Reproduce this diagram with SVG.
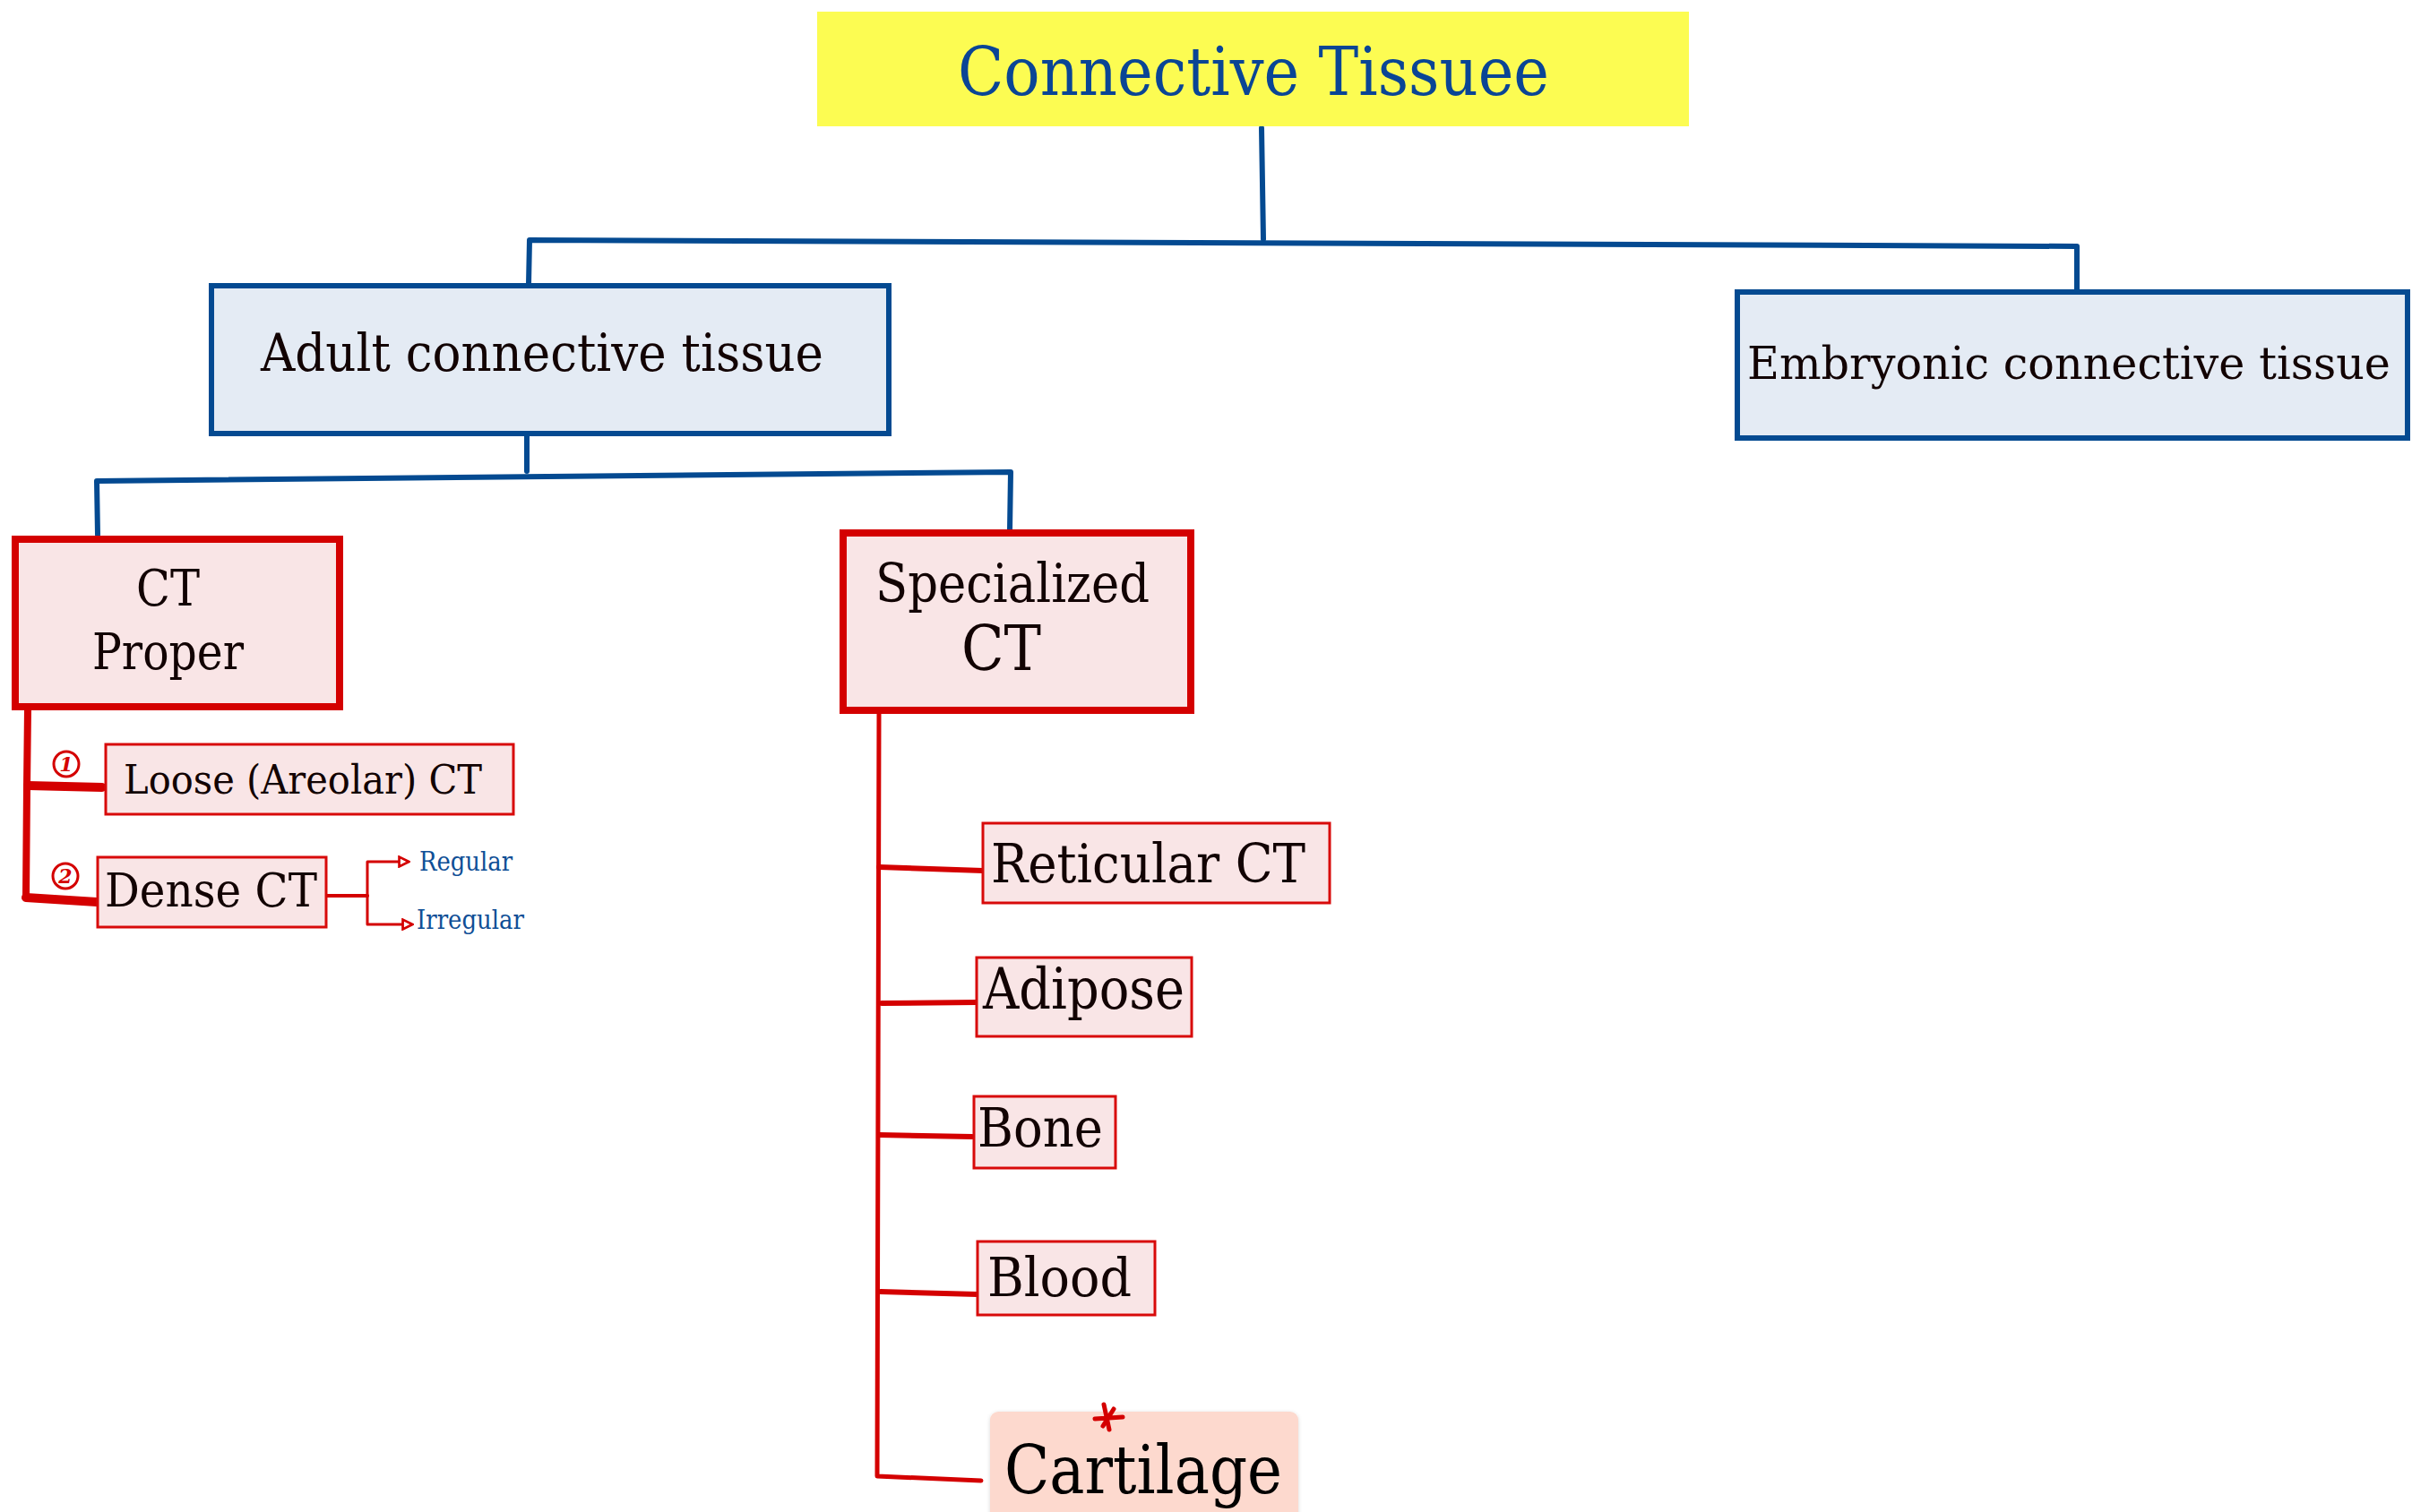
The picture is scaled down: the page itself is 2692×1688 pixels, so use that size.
<svg xmlns="http://www.w3.org/2000/svg" width="2692" height="1688" viewBox="0 0 2692 1688">
<style>
.t{font-family:"DejaVu Serif","Liberation Serif",serif;fill:#120303}
.bl{fill:#e4ebf4;stroke:#044a91;stroke-width:6}
.rb{fill:#f9e5e6;stroke:#d40000;stroke-width:8}
.rs{fill:#f9e5e6;stroke:#d80a0a;stroke-width:3}
.cb{stroke:#044a91;stroke-width:6;fill:none;stroke-linecap:round;stroke-linejoin:round}
.cr{stroke:#d40000;fill:none;stroke-linecap:round;stroke-linejoin:round}
.sub{font-family:"DejaVu Serif","Liberation Serif",serif;fill:#0f4f96}
</style>
<defs>
<marker id="ah" viewBox="0 0 10 10" refX="8" refY="5" markerWidth="4.5" markerHeight="4.5" orient="auto" markerUnits="strokeWidth">
<path d="M1,1 L9,5 L1,9 Z" fill="#fff" stroke="#d40000" stroke-width="2"/>
</marker>
<filter id="sh" x="-5%" y="-5%" width="110%" height="110%"><feDropShadow dx="0" dy="1" stdDeviation="2" flood-color="#000" flood-opacity="0.15"/></filter>
</defs>
<rect width="2692" height="1688" fill="#fff"/>
<g id="connectors">
<path class="cb" d="M1408,143 L1410,267"/>
<path class="cb" d="M590,317 L591,268 L2318,275 L2318,326"/>
<path class="cb" stroke-width="5" d="M588,484 L588,526"/>
<path class="cb" stroke-width="5" d="M109,597 L108,537 L1128,527 L1127,592"/>
<path class="cr" stroke-width="8" d="M31,792 L30,878 L29,1002"/>
<path class="cr" stroke-width="10" d="M31,877 L114,879"/>
<path class="cr" stroke-width="10" d="M29,1002 L108,1007"/>
<path class="cr" stroke-width="4" d="M364,1000 L410,1000"/>
<path class="cr" stroke-width="3" d="M410,1000 L410,962 L455,962" marker-end="url(#ah)"/>
<path class="cr" stroke-width="3" d="M410,1000 L410,1032 L459,1032" marker-end="url(#ah)"/>
<path class="cr" stroke-width="5" d="M981,797 L979,1648 L1095,1653"/>
<path class="cr" stroke-width="6" d="M981,968 L1097,972"/>
<path class="cr" stroke-width="6" d="M984,1120 L1090,1119"/>
<path class="cr" stroke-width="6" d="M981,1267 L1085,1269"/>
<path class="cr" stroke-width="6" d="M983,1442 L1091,1445"/>
</g>
<g id="title">
<rect x="912" y="13" width="973" height="128" fill="#fcfc52"/>
<text class="t" x="1069" y="106" font-size="74" textLength="660" lengthAdjust="spacingAndGlyphs" style="fill:#0a4595">Connective Tissuee</text>
</g>
<g id="adult">
<rect class="bl" x="236" y="319" width="756" height="165"/>
<text class="t" x="291" y="414" font-size="57" textLength="628" lengthAdjust="spacingAndGlyphs">Adult connective tissue</text>
</g>
<g id="embryonic">
<rect class="bl" x="1939" y="326" width="748" height="163"/>
<text class="t" x="1950" y="423" font-size="50" textLength="718" lengthAdjust="spacingAndGlyphs">Embryonic connective tissue</text>
</g>
<g id="ct-proper">
<rect class="rb" x="17" y="602" width="362" height="187"/>
<text class="t" x="152" y="676" font-size="56" textLength="71" lengthAdjust="spacingAndGlyphs">CT</text>
<text class="t" x="103" y="747" font-size="56" textLength="169" lengthAdjust="spacingAndGlyphs">Proper</text>
</g>
<g id="loose">
<rect class="rs" x="118" y="831" width="455" height="78"/>
<text class="t" x="138" y="886" font-size="45" textLength="400" lengthAdjust="spacingAndGlyphs">Loose (Areolar) CT</text>
<circle cx="74" cy="853" r="14" fill="none" stroke="#d40000" stroke-width="3"/>
<text x="74" y="861" font-size="22" font-style="italic" font-weight="bold" text-anchor="middle" font-family="DejaVu Serif,serif" fill="#d40000">1</text>
</g>
<g id="dense">
<rect class="rs" x="109" y="957" width="255" height="78"/>
<text class="t" x="117" y="1012" font-size="53" textLength="237" lengthAdjust="spacingAndGlyphs">Dense CT</text>
<circle cx="73" cy="978" r="14" fill="none" stroke="#d40000" stroke-width="3"/>
<text x="73" y="986" font-size="22" font-style="italic" font-weight="bold" text-anchor="middle" font-family="DejaVu Serif,serif" fill="#d40000">2</text>
</g>
<g id="regular">
<text class="sub" x="468" y="972" font-size="30" textLength="104" lengthAdjust="spacingAndGlyphs">Regular</text>
</g>
<g id="irregular">
<text class="sub" x="465" y="1037" font-size="30" textLength="120" lengthAdjust="spacingAndGlyphs">Irregular</text>
</g>
<g id="specialized">
<rect class="rb" x="941" y="595" width="388" height="198"/>
<text class="t" x="977" y="672" font-size="60" textLength="306" lengthAdjust="spacingAndGlyphs">Specialized</text>
<text class="t" x="1073" y="748" font-size="69" textLength="89" lengthAdjust="spacingAndGlyphs">CT</text>
</g>
<g id="reticular">
<rect class="rs" x="1097" y="919" width="387" height="89"/>
<text class="t" x="1106" y="985" font-size="59" textLength="351" lengthAdjust="spacingAndGlyphs">Reticular CT</text>
</g>
<g id="adipose">
<rect class="rs" x="1090" y="1069" width="240" height="88"/>
<text class="t" x="1097" y="1126" font-size="63" textLength="225" lengthAdjust="spacingAndGlyphs">Adipose</text>
</g>
<g id="bone">
<rect class="rs" x="1087" y="1224" width="158" height="80"/>
<text class="t" x="1091" y="1280" font-size="59" textLength="140" lengthAdjust="spacingAndGlyphs">Bone</text>
</g>
<g id="blood">
<rect class="rs" x="1091" y="1386" width="198" height="82"/>
<text class="t" x="1102" y="1447" font-size="60" textLength="161" lengthAdjust="spacingAndGlyphs">Blood</text>
</g>
<g id="cartilage">
<rect x="1105" y="1576" width="344" height="140" rx="9" fill="#fdd9ce" filter="url(#sh)"/>
<text class="t" x="1121" y="1667" font-size="74" textLength="310" lengthAdjust="spacingAndGlyphs" style="fill:#000">Cartilage</text>
<path d="M1232,1568 L1238,1596 M1222,1584 L1253,1582 M1243,1573 L1231,1592" stroke="#d40000" stroke-width="5" stroke-linecap="round" fill="none"/>
</g>
</svg>
